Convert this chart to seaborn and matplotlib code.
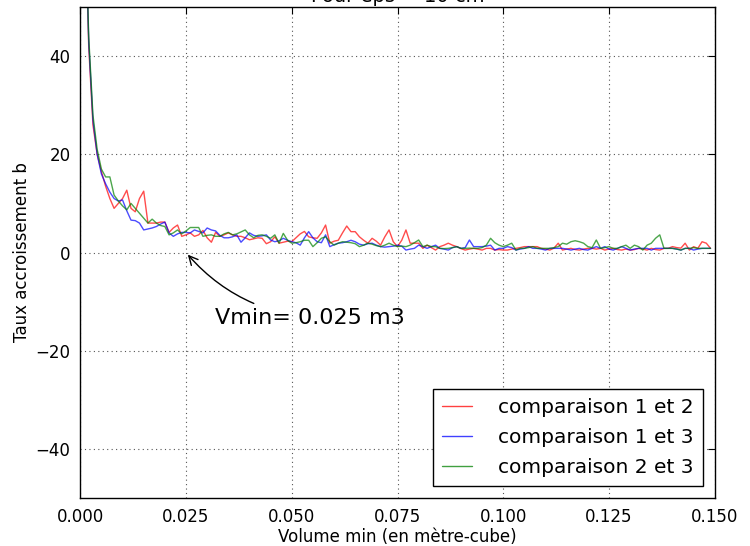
import numpy as np
import pandas as pd
import matplotlib
matplotlib.use("Agg")
import matplotlib.pyplot as plt
import seaborn as sns

# ---- data ----
volumes = np.round(np.arange(1, 150) * 0.001, 3)

comp_12 = [75, 42, 26, 20, 16.5, 13.5, 11, 9, 10, 11,
           12.7, 9, 8.3, 11, 12.5, 6, 6, 6, 6.2, 6.2,
           4.1, 5, 5.6, 3.3, 3.6, 4.0, 3.3, 3.6, 4.5, 3,
           2.1, 4.1, 3.3, 3.6, 4.0, 3.6, 3.3, 3.3, 3, 2.6,
           2.8, 3, 2.9, 1.8, 2.2, 3.2, 1.9, 2.1, 2.3, 2.2,
           3, 3.8, 4.3, 3.2, 3, 2.9, 4, 5.6, 1.9, 2.3,
           2.5, 4, 5.4, 4.25, 4.25, 3.2, 2.5, 1.9, 2.9, 2.3,
           1.5, 3.2, 4.6, 2.2, 1.2, 2.5, 4.6, 1.9, 1.9, 1.9,
           0.85, 1.5, 1, 0.5, 1.2, 1.5, 1.9, 1.5, 1.2, 0.8,
           0.5, 0.7, 0.85, 0.7, 0.5, 0.85, 0.85, 0.5, 0.6, 0.5,
           0.5, 0.7, 0.85, 1.0, 1.2, 1.2, 1.2, 1.2, 0.85, 0.7,
           0.5, 0.9, 1.9, 0.5, 0.7, 0.85, 0.6, 0.5, 0.7, 0.85,
           0.85, 0.7, 0.85, 0.5, 0.7, 0.85, 0.6, 0.5, 0.7, 0.5,
           0.6, 0.85, 0.7, 0.5, 0.85, 0.6, 0.5, 0.85, 0.85, 1.2,
           1.0, 0.9, 1.9, 0.5, 1.2, 0.85, 2.2, 1.9, 0.85]

comp_13 = [75, 43, 27, 20, 16, 14, 12.3, 11, 10.5, 10.7,
           8.5, 6.6, 6.5, 6, 4.6, 4.8, 5, 5.3, 5.8, 6.2,
           4, 3.3, 3.8, 4.1, 4.1, 4.0, 4.6, 4.3, 4, 5,
           4.6, 4.4, 3.5, 3, 3, 3.2, 3.6, 2.1, 3, 4,
           3.5, 3.3, 3.4, 3.6, 2.55, 2.2, 2.4, 2.9, 2.5, 2.2,
           2.0, 1.5, 3, 4.25, 3, 2.2, 2, 3.6, 1.2, 1.6,
           1.9, 2.0, 2.2, 2.5, 2.2, 1.7, 1.5, 1.8, 1.9, 1.5,
           1.2, 1.1, 1.2, 1.3, 1.5, 1.3, 0.5, 0.7, 0.85, 1.5,
           1.2, 0.85, 1.2, 1.5, 0.85, 0.7, 0.5, 1.0, 1.2, 0.85,
           1.0, 2.55, 1.2, 1.2, 1.2, 1.3, 1.5, 0.5, 0.85, 0.85,
           1.2, 1.0, 0.5, 0.7, 0.85, 1.2, 0.85, 0.85, 0.7, 0.5,
           0.85, 0.85, 0.85, 0.85, 0.7, 0.5, 0.7, 0.85, 0.6, 0.5,
           0.85, 1.2, 0.85, 1.2, 0.7, 0.5, 0.85, 1.2, 0.85, 0.5,
           0.7, 0.85, 0.85, 0.85, 0.5, 0.85, 0.85, 0.85, 0.85, 0.85,
           0.7, 0.5, 0.85, 0.85, 0.5, 0.7, 0.85, 0.85, 0.85]

comp_23 = [75, 44, 28, 21, 17, 15.4, 15.4, 11.7, 10.5, 9.5,
           8.7, 10, 9, 8, 7, 6, 6.8, 6, 5.5, 5.3,
           3.6, 4, 4.6, 3.8, 4.4, 5.1, 5.1, 5.1, 3.3, 3.5,
           3.6, 3.3, 3.3, 3.8, 4.1, 3.6, 3.8, 4.2, 4.6, 3.6,
           3, 3.5, 3.6, 3.3, 2.9, 3.6, 1.9, 3.9, 2.5, 1.9,
           2, 2.2, 2.5, 2.5, 1.2, 2.0, 2.9, 3.2, 2.2, 1.5,
           1.9, 2.2, 2.1, 2.0, 1.8, 1.2, 1.5, 1.9, 1.7, 1.4,
           1.2, 1.5, 1.9, 1.5, 1.2, 1.3, 1.2, 1.5, 2.0, 2.55,
           1.2, 1.5, 1.2, 1.2, 0.85, 0.8, 0.85, 1.0, 1.2, 0.85,
           0.85, 0.9, 0.85, 0.85, 1.0, 1.5, 2.9, 2.0, 1.5, 1.2,
           1.5, 1.9, 0.5, 0.85, 0.85, 1.0, 1.2, 0.85, 0.85, 0.85,
           0.85, 1.0, 1.2, 1.9, 1.7, 2.2, 2.4, 2.2, 1.9, 1.2,
           1.0, 2.55, 0.85, 1.0, 1.2, 0.85, 0.85, 1.2, 1.5, 0.85,
           1.5, 1.2, 0.5, 1.5, 1.9, 2.9, 3.6, 0.85, 0.85, 0.85,
           0.7, 0.5, 0.85, 0.85, 1.0, 0.85, 0.85, 0.85, 0.85]

labels = ["comparaison 1 et 2", "comparaison 1 et 3", "comparaison 2 et 3"]
colors = ["#ff0000", "#0000ff", "#008000"]
x_ticks = [0.000, 0.025, 0.050, 0.075, 0.100, 0.125, 0.150]
y_ticks = [-40, -20, 0, 20, 40]

df = pd.concat([
    pd.DataFrame({"volume": volumes, "taux": vals, "serie": lab})
    for vals, lab in zip([comp_12, comp_13, comp_23], labels)
], ignore_index=True)

# ---- style ----
sns.set_style("white")
plt.rcParams["font.family"] = ["DejaVu Sans"]
plt.rcParams["text.color"] = "black"
plt.rcParams["axes.labelcolor"] = "black"
plt.rcParams["xtick.direction"] = "in"
plt.rcParams["ytick.direction"] = "in"

fig, ax = plt.subplots(figsize=(7.5, 5.46), dpi=100)
fig.subplots_adjust(left=0.107, right=0.953, top=0.987, bottom=0.088)

sns.lineplot(data=df, x="volume", y="taux", hue="serie", hue_order=labels,
             palette=dict(zip(labels, colors)), linewidth=1.0, alpha=0.7,
             ax=ax, legend=False)

ax.set_xlim(0, 0.150)
ax.set_ylim(-50, 50)
ax.set_xticks(x_ticks)
ax.set_xticklabels([f"{t:.3f}" for t in x_ticks])
ax.set_yticks(y_ticks)
ax.set_yticklabels([f"{t:d}".replace("-", "\u2212") for t in y_ticks])
ax.tick_params(axis="both", labelsize=12, colors="black", length=5, width=0.8,
               top=True, right=True, direction="in", pad=7)
ax.grid(True, color="#555555", linestyle=(0, (1, 3)), linewidth=0.8)
for s in ax.spines.values():
    s.set_color("black")
    s.set_linewidth(1.0)

ax.set_xlabel("Volume min (en mètre-cube)", fontsize=12, labelpad=2,
              color="black")
ax.set_ylabel("Taux accroissement b", fontsize=12, labelpad=3,
              color="black")
ax.set_title("Pour eps = 10 cm", fontsize=14, pad=3.6, color="black")

ax.annotate("Vmin= 0.025 m3", xy=(0.025, 0), xytext=(0.0319, -13.3),
            fontsize=16, ha="left", va="center", color="black",
            arrowprops=dict(arrowstyle="->", color="black", lw=1.0,
                            connectionstyle="arc3,rad=-0.2"))

handles = [plt.Line2D([], [], color=c, lw=1.0, alpha=0.75) for c in colors]
leg = ax.legend(handles, labels, loc="lower right", fontsize=14.5,
                fancybox=False, frameon=True, edgecolor="black",
                framealpha=1, handlelength=1.5, handletextpad=1.3,
                borderaxespad=0.6, labelspacing=0.55, borderpad=0.45)
leg.get_frame().set_linewidth(1.0)
for t in leg.get_texts():
    t.set_color("black")

fig.savefig("out.png", dpi=100)
